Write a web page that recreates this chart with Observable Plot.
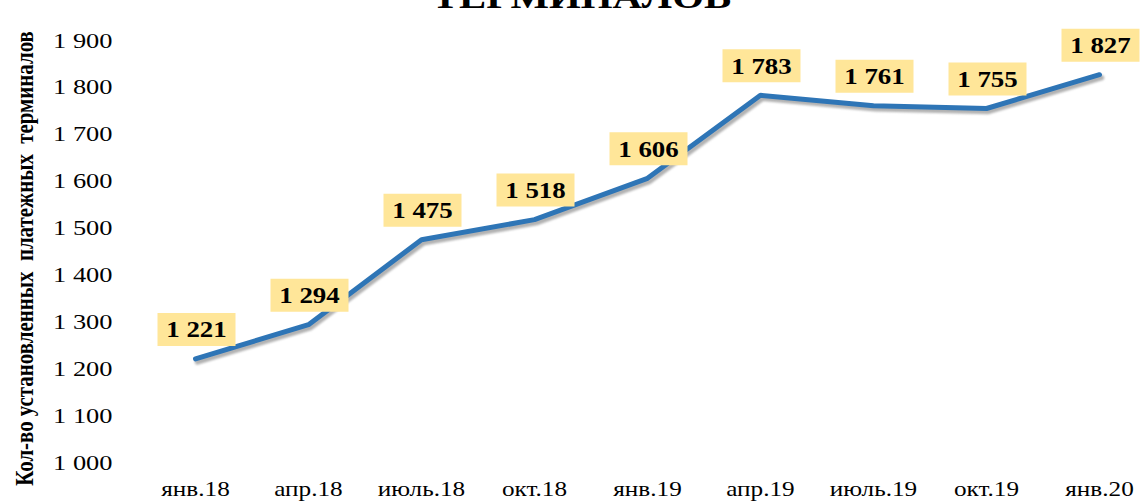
<!DOCTYPE html>
<html>
<head>
<meta charset="utf-8">
<script src="https://cdn.jsdelivr.net/npm/d3@7"></script>
<script src="https://cdn.jsdelivr.net/npm/@observablehq/plot@0.6"></script>
<style>
  html, body { margin: 0; padding: 0; background: #fff; }
  #chart svg { display: block; }
</style>
</head>
<body>
<div id="chart"></div>
<script>
const months = ["янв.18","апр.18","июль.18","окт.18","янв.19","апр.19","июль.19","окт.19","янв.20"];
const values = [1221, 1294, 1475, 1518, 1606, 1783, 1761, 1755, 1827];
const yTicks = [1000, 1100, 1200, 1300, 1400, 1500, 1600, 1700, 1800, 1900];
const titleText = "ТЕРМИНАЛОВ";
const yTitle = "Кол-во установленных\u00A0 платежных\u00A0 терминалов";

const data = months.map((m, i) => ({month: m, value: values[i]}));
const ru = d3.formatLocale({decimal: ",", thousands: " ", grouping: [3], currency: ["", ""]});
const fmt = ru.format(",");

const font = "'Liberation Serif', 'Times New Roman', serif";
const boxSymbol = {draw(ctx) { ctx.rect(-39, -16.5, 78, 33); }};

const W = 1142, H = 501, mL = 192, mR = 41, mT = 40, mB = 39;

const plot = Plot.plot({
  width: W, height: H,
  marginLeft: mL, marginRight: mR, marginTop: mT, marginBottom: mB,
  style: {fontFamily: font, background: "#fff", color: "#000"},
  x: {type: "point", domain: months, padding: 0, label: null},
  y: {domain: [1000, 1900], label: null},
  marks: [
    Plot.axisY({ticks: yTicks, tickFormat: fmt, tickSize: 0, tickPadding: 80, fontSize: 22, label: null}),
    Plot.axisX({tickSize: 0, tickPadding: 19, fontSize: 21, label: null}),
    Plot.line(data, {x: "month", y: "value", stroke: "#7f7f7f", strokeOpacity: 0.6, strokeWidth: 5.5, dx: 2, dy: 3, strokeLinejoin: "miter", ariaLabel: () => "shadow"}),
    Plot.line(data, {x: "month", y: "value", stroke: "#2E75B6", strokeWidth: 5, strokeLinejoin: "miter", strokeLinecap: "round"}),
    Plot.dot(data, {x: "month", y: "value", symbol: boxSymbol, fill: "#FFE699", stroke: null, r: 10, dy: -29.5, dx: 1}),
    Plot.text(data, {x: "month", y: "value", text: d => fmt(d.value), dy: -29.5, dx: 1, fontSize: 24, fontWeight: "bold", fill: "#000", lineAnchor: "middle", ariaLabel: () => "vals"}),
    Plot.text([titleText], {text: d => d, frameAnchor: "top-left", dx: 581 - mL, dy: 7 - mT, fontSize: 34, fontWeight: "bold", textAnchor: "middle", lineAnchor: "bottom", fill: "#000"}),
    Plot.text([yTitle], {text: d => d, frameAnchor: "left", dx: 24 - mL, dy: 7, rotate: -90, fontSize: 25, fontWeight: "bold", textAnchor: "middle", lineAnchor: "middle", fill: "#000", ariaLabel: () => "ytitle"})
  ]
});

document.getElementById("chart").appendChild(plot);

// blur the shadow line
plot.querySelectorAll('[aria-label="shadow"]').forEach(g => g.style.filter = "blur(1.2px)");

// horizontal stretch of the text glyphs as in the reference
plot.querySelectorAll("text").forEach(t => {
  const len = t.getComputedTextLength();
  if (!(len > 0)) return;
  const lab = t.getAttribute("aria-label") || (t.parentNode && t.parentNode.getAttribute && t.parentNode.getAttribute("aria-label"));
  if (lab === "ytitle") {
    const sx = 455 / len;
    const tr = t.getAttribute("transform") || "";
    t.setAttribute("transform", tr + ` scale(${sx.toFixed(4)},1)`);
    return;
  }
  const k = lab === "vals" ? 1.12 : 1.2;
  t.setAttribute("textLength", (len * k).toFixed(1));
  t.setAttribute("lengthAdjust", "spacingAndGlyphs");
});
</script>
</body>
</html>
